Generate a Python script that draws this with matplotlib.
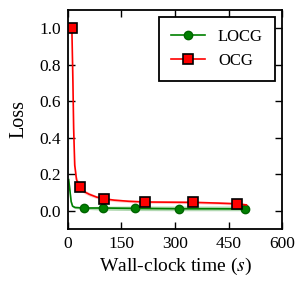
import matplotlib
matplotlib.use("Agg")
import matplotlib.pyplot as plt

# wall-clock time (s) and loss
t_ocg = [5, 11, 14, 16, 19, 24, 33, 45, 60, 80, 100, 130, 170, 216, 280, 350, 420, 473, 500]
loss_ocg = [1.0, 1.0, 0.7, 0.45, 0.25, 0.17, 0.13, 0.105, 0.09, 0.075, 0.066, 0.058, 0.052,
            0.048, 0.047, 0.046, 0.042, 0.038, 0.032]
ocg_lo = [0.97, 0.97, 0.65, 0.41, 0.22, 0.15, 0.115, 0.095, 0.08, 0.067, 0.058, 0.05, 0.045,
          0.041, 0.04, 0.039, 0.035, 0.031, 0.025]
ocg_hi = [1.0, 1.0, 0.75, 0.5, 0.28, 0.19, 0.145, 0.115, 0.1, 0.083, 0.073, 0.065, 0.059,
          0.055, 0.054, 0.053, 0.05, 0.046, 0.04]
ocg_marks = [1, 6, 10, 13, 15, 17]

t_locg = [2, 5, 9, 13, 20, 46, 98, 187, 312, 400, 497]
loss_locg = [0.17, 0.12, 0.05, 0.025, 0.018, 0.015, 0.015, 0.013, 0.011, 0.011, 0.01]
locg_lo = [0.15, 0.1, 0.04, 0.018, 0.012, 0.008, 0.003, 0.001, 0.0, 0.0, 0.0]
locg_hi = [0.19, 0.14, 0.06, 0.032, 0.024, 0.022, 0.025, 0.026, 0.026, 0.026, 0.026]
locg_marks = [5, 6, 7, 8, 10]

x_ticks = [0, 150, 300, 450, 600]
y_ticks = [0.0, 0.2, 0.4, 0.6, 0.8, 1.0]

plt.rcParams['font.family'] = 'Liberation Serif'
plt.rcParams['mathtext.fontset'] = 'stix'
plt.rcParams['font.size'] = 12

fig = plt.figure(figsize=(3.06, 2.91), dpi=100)
ax = fig.add_axes([0.222, 0.213, 0.7, 0.753])

ax.fill_between(t_locg, locg_lo, locg_hi, color='green', alpha=0.3, lw=0)
ax.fill_between(t_ocg, ocg_lo, ocg_hi, color='red', alpha=0.2, lw=0)
ax.plot(t_locg, loss_locg, color='green', lw=1.2, marker='o', ms=6,
        markevery=locg_marks, mfc='green', mec='darkgreen', label='LOCG')
ax.plot(t_ocg, loss_ocg, color='red', lw=1.2, marker='s', ms=7,
        markevery=ocg_marks, mfc='red', mec='black', mew=1.2, label='OCG')

ax.set_xlim(0, 600)
ax.set_ylim(-0.1, 1.1)
ax.set_xticks(x_ticks)
ax.set_yticks(y_ticks)
ax.set_xticklabels([str(v) for v in x_ticks])
ax.set_yticklabels(['%.1f' % v for v in y_ticks])
ax.tick_params(direction='in', top=True, right=True, length=5, width=1,
               labelsize=12.5, pad=5)
for s in ax.spines.values():
    s.set_linewidth(1.3)

ax.set_xlabel('Wall-clock time ($s$)', fontsize=14, labelpad=3)
ax.set_ylabel('Loss', fontsize=14.5, labelpad=8)

leg = ax.legend(loc='upper right', fontsize=12, fancybox=False, framealpha=1,
                edgecolor='black', borderaxespad=0.4, borderpad=0.75,
                handlelength=2.0, handletextpad=0.8, labelspacing=0.45)
leg.get_frame().set_linewidth(1.3)

fig.savefig('out.png', dpi=100)
